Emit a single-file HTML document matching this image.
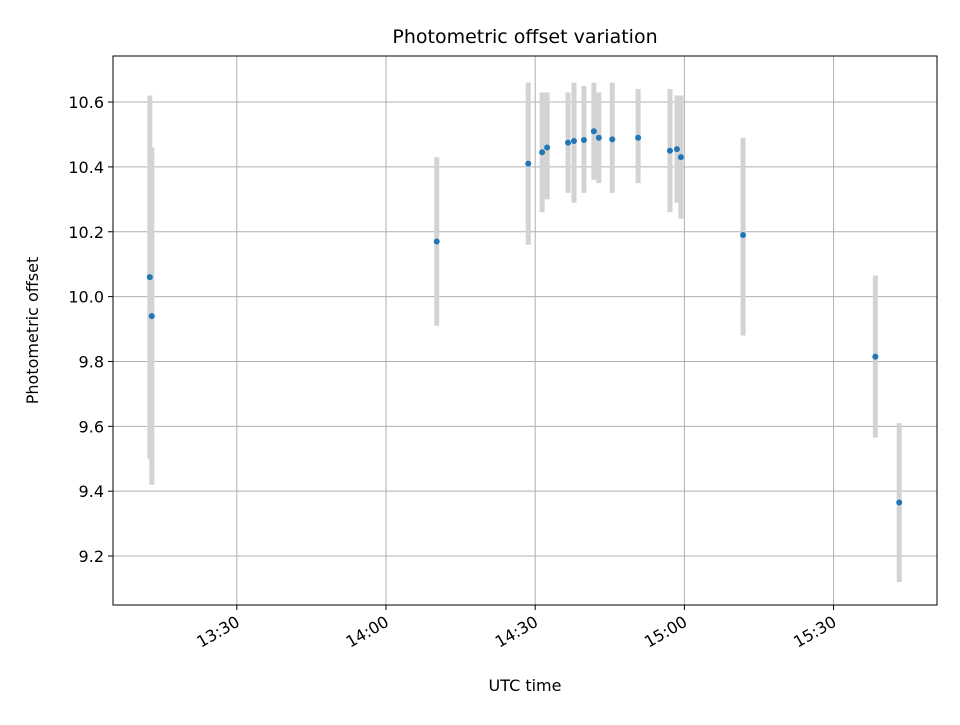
<!DOCTYPE html>
<html><head><meta charset="utf-8"><style>
body{margin:0;background:#fff;}
svg{font-family:"DejaVu Sans","Liberation Sans",sans-serif;}
</style></head><body>
<svg id="c" width="960" height="720"></svg>
<script>
const times = [792.5, 792.9, 850.2, 868.6, 871.4, 872.4, 876.6, 877.8, 879.8, 881.8, 882.8, 885.5, 890.7, 897.1, 898.5, 899.3, 911.8, 938.4, 943.2];
const offsets = [10.06, 9.94, 10.17, 10.41, 10.445, 10.46, 10.475, 10.48, 10.483, 10.51, 10.49, 10.485, 10.49, 10.45, 10.455, 10.43, 10.19, 9.815, 9.365];
const errLow = [9.50, 9.42, 9.91, 10.16, 10.26, 10.30, 10.32, 10.29, 10.32, 10.36, 10.35, 10.32, 10.35, 10.26, 10.29, 10.24, 9.88, 9.565, 9.12];
const errHigh = [10.62, 10.46, 10.43, 10.66, 10.63, 10.63, 10.63, 10.66, 10.65, 10.66, 10.63, 10.66, 10.64, 10.64, 10.62, 10.62, 10.49, 10.065, 9.61];
const xTickVals = [810, 840, 870, 900, 930];
const xTickLabels = ["13:30", "14:00", "14:30", "15:00", "15:30"];
const yTickVals = [9.2, 9.4, 9.6, 9.8, 10.0, 10.2, 10.4, 10.6];
const yTickLabels = ["9.2", "9.4", "9.6", "9.8", "10.0", "10.2", "10.4", "10.6"];

const L=113,R=937,T=56,B=605;
const xMin=785.1,xMax=950.8,yMin=9.049,yMax=10.742;
const X=v=>L+(v-xMin)/(xMax-xMin)*(R-L);
const Y=v=>B-(v-yMin)/(yMax-yMin)*(B-T);
const svg=document.getElementById('c');
const NS='http://www.w3.org/2000/svg';
function mk(tag,attrs,parent){const e=document.createElementNS(NS,tag);for(const k in attrs)e.setAttribute(k,attrs[k]);(parent||svg).appendChild(e);return e;}

const grid=mk('g',{});


xTickVals.forEach((v,i)=>{
  const x=X(v);
  mk('line',{x1:x,x2:x,y1:T,y2:B,stroke:'#b0b0b0','stroke-width':1},grid);
  const tk=mk('line',{x1:x,x2:x,y1:B,y2:B+5,stroke:'#000'});
  
  
  const ax=x+4, ay=B+20;
  const t=mk('text',{x:ax,y:ay,'font-size':16,'text-anchor':'end',transform:`rotate(-30 ${ax} ${ay})`});
  
  
  t.textContent=xTickLabels[i];
});
yTickVals.forEach((v,i)=>{
  const y=Y(v);
  mk('line',{x1:L,x2:R,y1:y,y2:y,stroke:'#b0b0b0','stroke-width':1},grid);
  const tk=mk('line',{x1:L-5,x2:L,y1:y,y2:y,stroke:'#000'});
  
  
  const t=mk('text',{x:L-9,y:y+6,'font-size':16,'text-anchor':'end'});
  
  
  t.textContent=yTickLabels[i];
});
times.forEach((tv,i)=>{
  const x=X(tv);
  const e=mk('line',{x1:x,x2:x,y1:Y(errLow[i]),y2:Y(errHigh[i]),stroke:'#d3d3d3','stroke-width':5});
  
  
});
times.forEach((tv,i)=>{
  const p=mk('circle',{cx:X(tv),cy:Y(offsets[i]),r:3,fill:'#1f77b4'});
  
  
});
const fr=mk('rect',{x:L,y:T,width:R-L,height:B-T,fill:'none',stroke:'#000','stroke-width':1});


const ti=mk('text',{x:(L+R)/2,y:43,'font-size':19,'text-anchor':'middle'});


ti.textContent='Photometric offset variation';
const xl=mk('text',{x:(L+R)/2,y:691,'font-size':16,'text-anchor':'middle'});


xl.textContent='UTC time';
const yl=mk('text',{x:38,y:(T+B)/2,'font-size':16,'text-anchor':'middle',transform:`rotate(-90 38 ${(T+B)/2})`});


yl.textContent='Photometric offset';
</script>
</body></html>
